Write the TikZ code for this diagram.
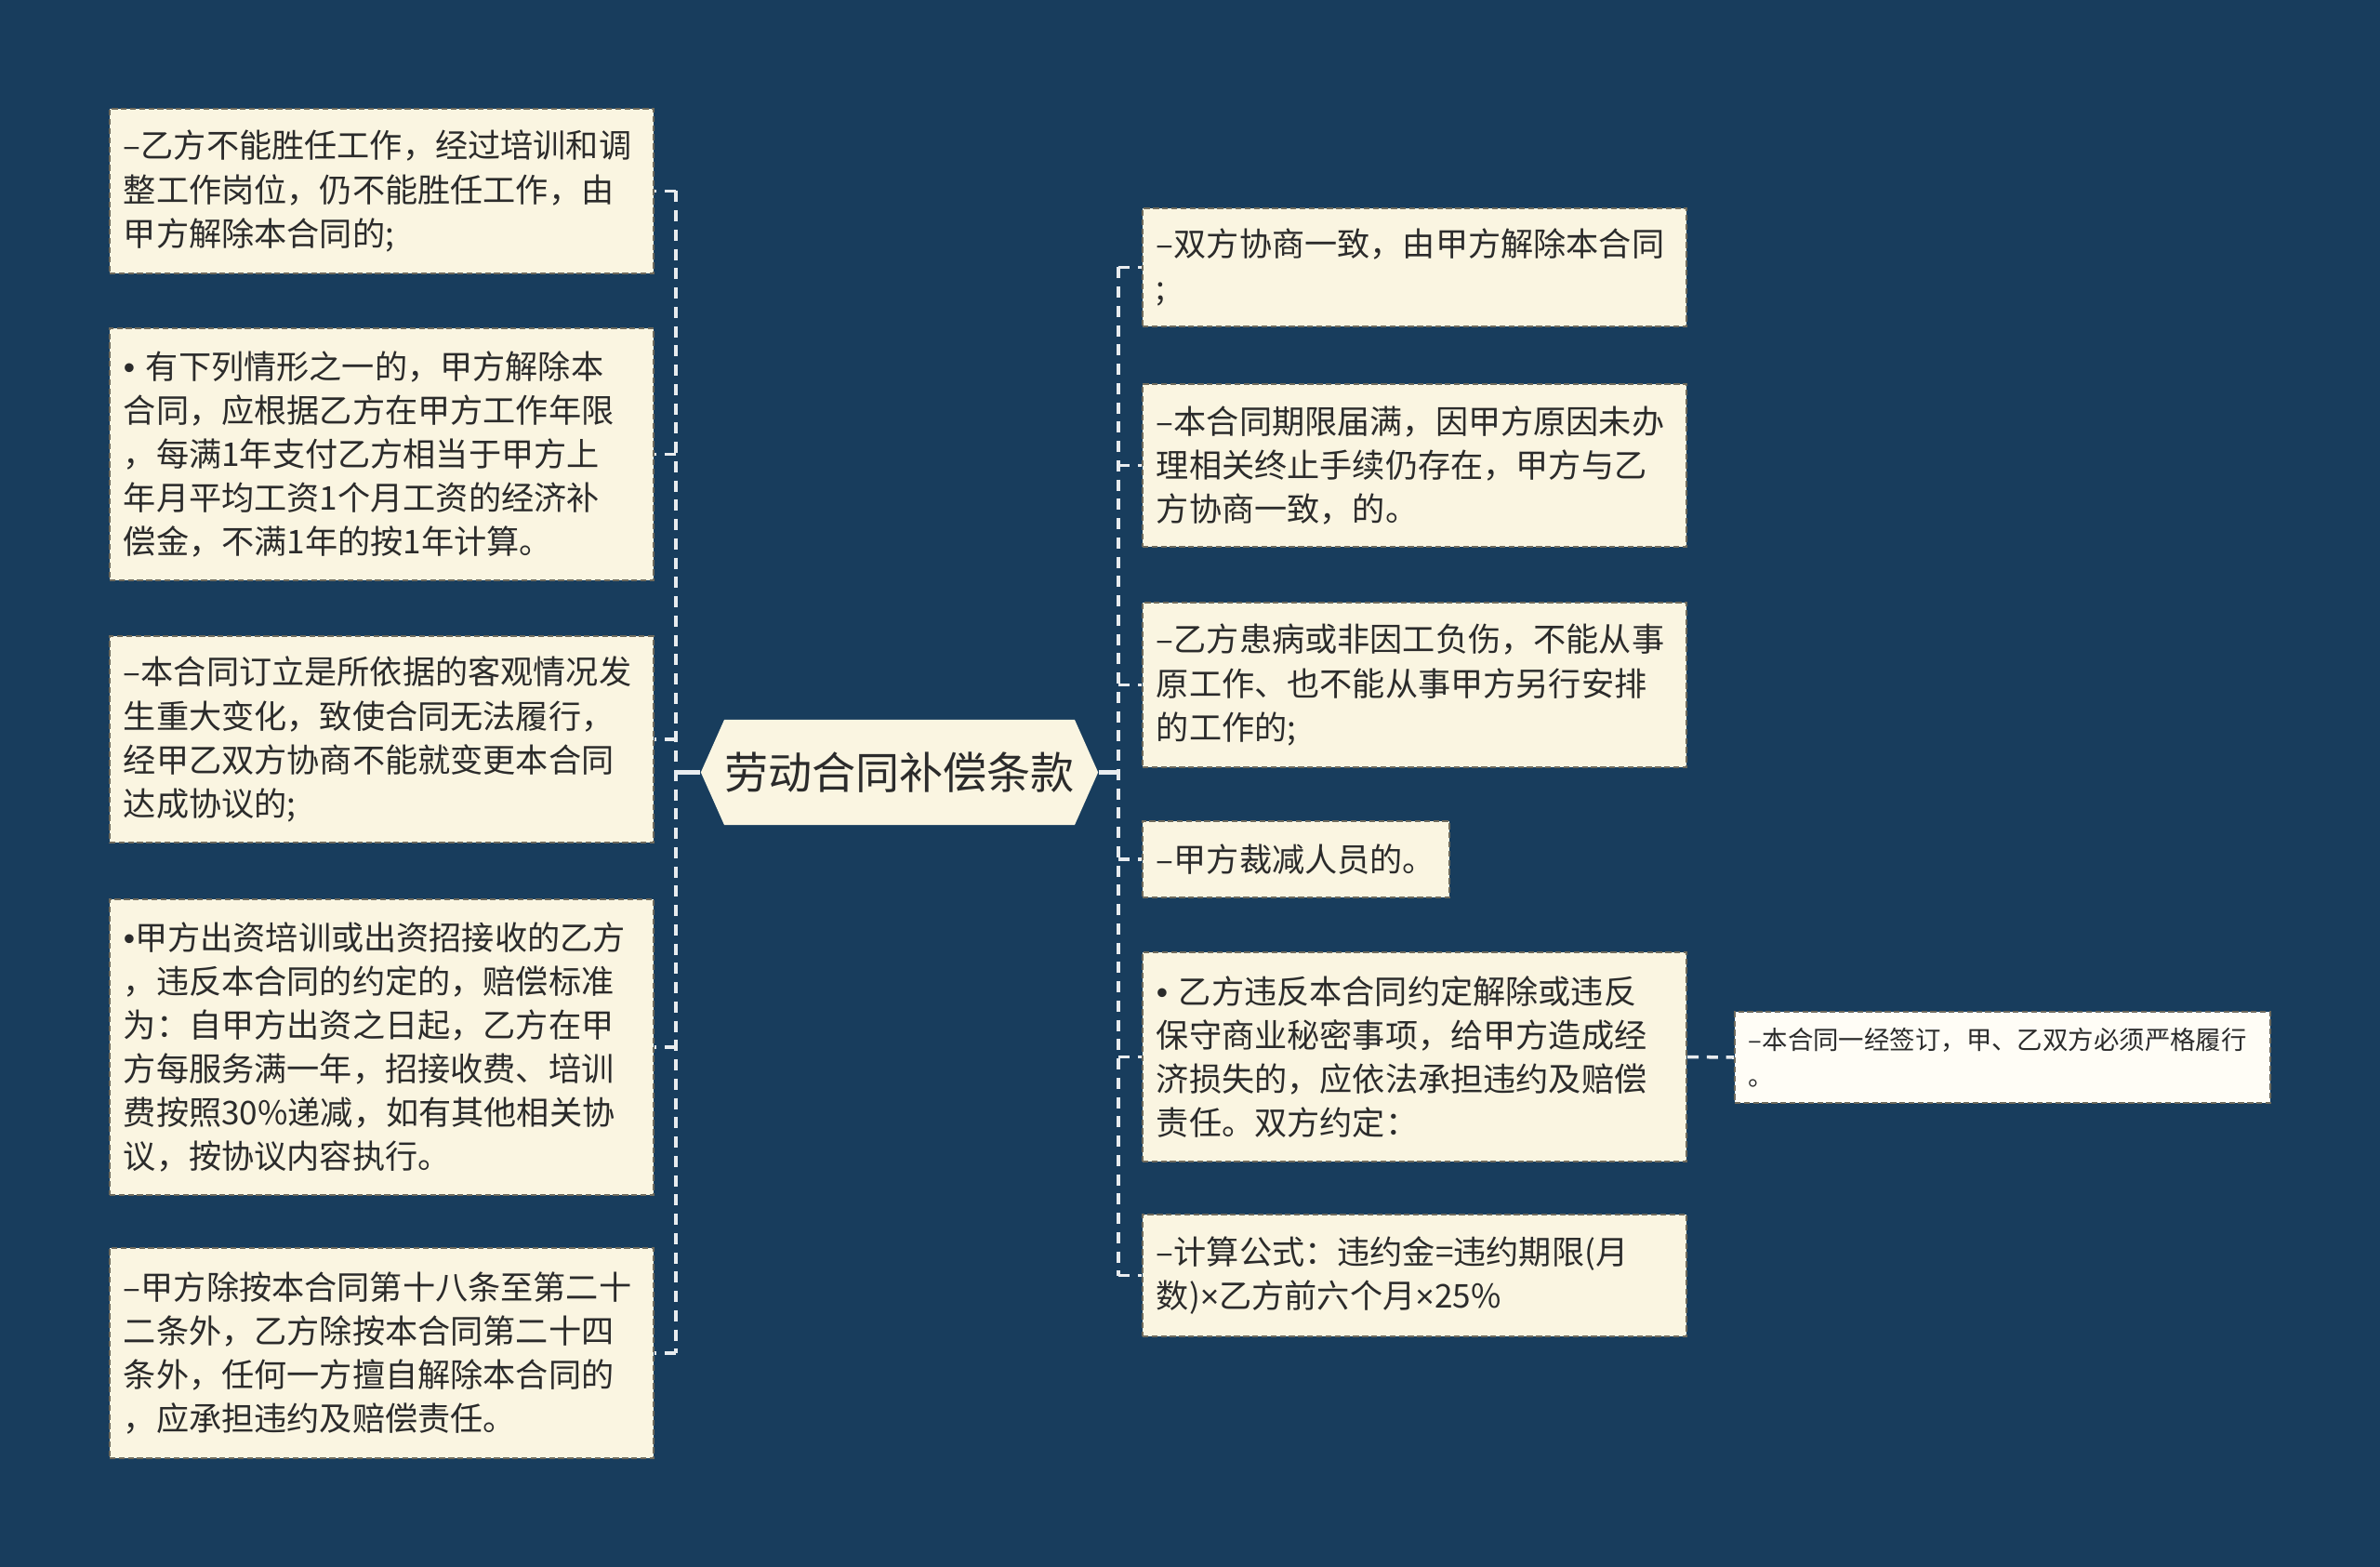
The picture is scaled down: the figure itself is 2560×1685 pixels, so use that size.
\documentclass[tikz,border=0pt]{standalone}
\usepackage{fontspec}
\setmainfont{Noto Sans CJK SC}
\newfontfamily\latinfont{Liberation Sans}
\newcommand{\dotmark}{{\latinfont •}}
\newcommand{\timesmark}{{\latinfont ×}}
\usetikzlibrary{shapes.symbols}

\definecolor{bgblue}{HTML}{183D5D}
\definecolor{cream}{HTML}{FAF5E1}
\definecolor{paper}{HTML}{FFFDF6}
\definecolor{ink}{HTML}{2B2B2B}
\definecolor{rim}{HTML}{6E6A5C}

\tikzset{
  topic/.style={signal, signal to=west and east, signal pointer angle=132,
    fill=cream, text=ink, font=\fontsize{13.4pt}{16pt}\selectfont,
    minimum height=1.13cm, inner xsep=0pt},
  item/.style={draw=rim, line width=0.5pt, dash pattern=on 1.8pt off 1pt,
    fill=cream, text=ink, font=\fontsize{10pt}{13.4pt}\selectfont,
    text width=5.55cm, align=left, inner xsep=0.15cm, inner ysep=0.1cm, anchor=west},
  note/.style={item, fill=paper, font=\fontsize{7.8pt}{11pt}\selectfont, text width=5.46cm},
  link/.style={draw=white!90!bgblue, line width=1pt, dash pattern=on 3.4pt off 2.5pt},
  stem/.style={draw=white!90!bgblue, line width=1.2pt}
}

\begin{document}
\begin{tikzpicture}[x=0.01cm, y=-0.01cm]
\fill[bgblue] (0,0) rectangle (2560,1685);

\node[topic] (root) at (967.5,830.5) {劳动合同补偿条款};

% left side
\node[item, minimum height=1.77cm] (L1) at (117,205.5) {–乙方不能胜任工作，经过培训和调\\整工作岗位，仍不能胜任工作，由\\甲方解除本合同的;};
\node[item, minimum height=2.71cm] (L2) at (117,488.5) {\dotmark{} 有下列情形之一的，甲方解除本\\合同，应根据乙方在甲方工作年限\\，每满1年支付乙方相当于甲方上\\年月平均工资1个月工资的经济补\\偿金，不满1年的按1年计算。};
\node[item, minimum height=2.22cm] (L3) at (117,795) {–本合同订立是所依据的客观情况发\\生重大变化，致使合同无法履行，\\经甲乙双方协商不能就变更本合同\\达成协议的;};
\node[item, minimum height=3.18cm] (L4) at (117,1126) {\dotmark 甲方出资培训或出资招接收的乙方\\，违反本合同的约定的，赔偿标准\\为：自甲方出资之日起，乙方在甲\\方每服务满一年，招接收费、培训\\费按照30\%递减，如有其他相关协\\议，按协议内容执行。};
\node[item, minimum height=2.26cm] (L5) at (117,1455) {–甲方除按本合同第十八条至第二十\\二条外，乙方除按本合同第二十四\\条外，任何一方擅自解除本合同的\\，应承担违约及赔偿责任。};

% right side
\node[item, minimum height=1.27cm] (R1) at (1228,287.5) {–双方协商一致，由甲方解除本合同\\;};
\node[item, minimum height=1.75cm] (R2) at (1228,500.5) {–本合同期限届满，因甲方原因未办\\理相关终止手续仍存在，甲方与乙\\方协商一致，的。};
\node[item, minimum height=1.77cm] (R3) at (1228,736.5) {–乙方患病或非因工负伤，不能从事\\原工作、也不能从事甲方另行安排\\的工作的;};
\node[item, text width=, minimum height=0.82cm] (R4) at (1228,924) {–甲方裁减人员的。};
\node[item, minimum height=2.25cm] (R5) at (1228,1136.5) {\dotmark{} 乙方违反本合同约定解除或违反\\保守商业秘密事项，给甲方造成经\\济损失的，应依法承担违约及赔偿\\责任。双方约定：};
\node[item, minimum height=1.31cm] (R6) at (1228,1371.5) {–计算公式：违约金=违约期限(月\\数)\timesmark 乙方前六个月\timesmark 25\%};
\node[note, minimum height=0.98cm] (N1) at (1865,1137) {–本合同一经签订，甲、乙双方必须严格履行\\。};

% connectors
\coordinate (lj) at (727,830.5);
\coordinate (rj) at (1203,830.5);
\draw[stem] (root.west) -- (lj);
\draw[stem] (root.east) -- (rj);
\draw[link] (lj |- L1.east) -- (lj |- L5.east);
\foreach \n in {L1,L2,L3,L4,L5}
  \draw[link] (lj |- \n.east) -- (\n.east);
\draw[link] (rj |- R1.west) -- (rj |- R6.west);
\foreach \n in {R1,R2,R3,R4,R5,R6}
  \draw[link] (rj |- \n.west) -- (\n.west);
\draw[link] (R5.east) -- (N1.west);
\end{tikzpicture}
\end{document}
